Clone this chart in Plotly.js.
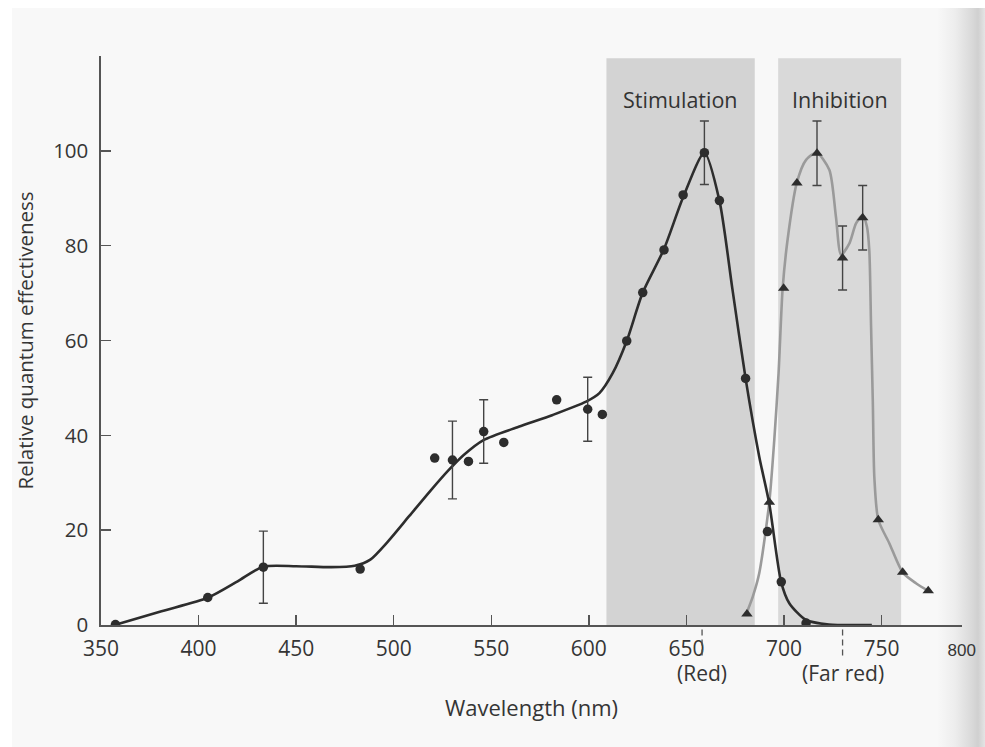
<!DOCTYPE html>
<html><head><meta charset="utf-8">
<script src="https://cdn.plot.ly/plotly-3.0.1.min.js"></script>
<style>
html,body{margin:0;padding:0;background:#fff;}
#wrap{position:relative;width:985px;height:747px;overflow:hidden;background:#fff;}
#page{position:absolute;left:12px;top:8px;width:973px;height:739px;background:linear-gradient(to right,#f8f8f8 0px,#f8f8f8 925px,#ededed 943px,#d9d9d9 960px,#d0d0d0 966px,#e4e4e4 973px);}
#chart{position:absolute;left:0;top:0;width:985px;height:747px;}
</style></head>
<body>
<div id="wrap"><div id="page"></div><div id="chart"></div></div>
<script>
// ---- data ----
const stimX = [357.4, 404.7, 433.2, 482.8, 521.0, 530.1, 538.3, 546.1, 556.4, 583.5, 599.4, 606.9, 619.4, 627.6, 638.5, 648.3, 659.2, 666.9, 680.3, 691.5, 698.6, 711.3];
const stimY = [0.1, 5.8, 12.2, 11.8, 35.2, 34.8, 34.5, 40.8, 38.5, 47.5, 45.5, 44.4, 59.9, 70.1, 79.1, 90.7, 99.6, 89.5, 52.0, 19.7, 9.1, 0.4];
const stimErrX = [433.2, 530.1, 546.1, 599.4, 659.2];
const stimErrY = [12.2, 34.8, 40.8, 45.5, 99.6];
const stimErr  = [7.6, 8.2, 6.7, 6.75, 6.7];
const stimCurveX = [357, 381, 405, 420, 433, 450, 468, 480, 488, 497, 508, 519, 528, 536, 546, 564, 581.5, 598.6, 605.4, 612.2, 619.4, 627.6, 638.5, 648.3, 659.2, 666.9, 673.5, 680.3, 687.3, 692.4, 698.5, 702.7, 711.3, 723, 745];
const stimCurveY = [0, 2.9, 5.8, 9.2, 12.3, 12.4, 12.2, 12.5, 13.8, 17.6, 23, 28.4, 32.6, 35.9, 39, 41.8, 44.3, 47.1, 48.9, 53.1, 59.9, 70.1, 79.3, 90.2, 99.6, 89.5, 71, 52, 35.5, 25.7, 9.1, 4.6, 1.05, 0.1, 0];

const inhX = [681, 692.5, 699.8, 706.6, 716.9, 730, 740.3, 748.3, 760.8, 773.9];
const inhY = [2.3, 25.9, 71.0, 93.2, 99.5, 77.4, 85.9, 22.2, 11.1, 7.2];
const inhErrX = [716.9, 730, 740.3];
const inhErrY = [99.5, 77.4, 85.9];
const inhErr  = [6.8, 6.75, 6.8];
const inhCurveX = [680.8, 684, 687.3, 692.4, 695, 697.2, 699.3, 701.8, 706.5, 711.3, 716.7, 723.2, 726.6, 729.2, 733.5, 736.9, 740.3, 742.5, 743.7, 744.6, 745.5, 746.3, 748.3, 754, 760.8, 767.6, 773.9];
const inhCurveY = [2.5, 6, 10.9, 25.7, 39, 53.1, 71, 81.2, 93.2, 98.1, 99.6, 96, 86.1, 78.1, 80.5, 84.7, 86.4, 84, 79, 63, 47, 31, 22.2, 17.2, 11.1, 8.8, 7.2];

const stimBand = [609, 685];
const inhBand = [697, 760];
const bandTop = 119.5;
const redMark = 658;
const farRedMark = 730;
const xEnd = 791.1;
const xTickVals = [350, 400, 450, 500, 550, 600, 650, 700, 750, xEnd];
const xTickText = ['350','400','450','500','550','600','650','700','750','<span style="font-family:Liberation Sans;font-size:17px">800</span>'];
const yTickVals = [0, 20, 40, 60, 80, 100, 120];
const yTickText = ['0','20','40','60','80','100',''];

// ---- chart ----
const dark = '#2d2d2d';
const grayLine = '#9a9a9a';
const font = 'Open Sans, Noto Sans, sans-serif';
const txt = '#353535';

const traces = [
  {x: inhCurveX, y: inhCurveY, mode: 'lines', line: {color: grayLine, width: 2.6, shape: 'spline', smoothing: 0.7}, hoverinfo: 'skip'},
  {x: stimCurveX, y: stimCurveY, mode: 'lines', line: {color: dark, width: 2.6, shape: 'spline', smoothing: 0.7}, hoverinfo: 'skip'},
  {x: stimErrX, y: stimErrY, mode: 'markers', marker: {size: 1, opacity: 0},
   error_y: {type: 'data', array: stimErr, visible: true, color: '#444', thickness: 1.4, width: 4.5}},
  {x: inhErrX, y: inhErrY, mode: 'markers', marker: {size: 1, opacity: 0},
   error_y: {type: 'data', array: inhErr, visible: true, color: '#444', thickness: 1.4, width: 4.5}},
  {x: stimX, y: stimY, mode: 'markers', marker: {symbol: 'circle', size: 9.5, color: dark}},
  {x: inhX, y: inhY, mode: 'markers', marker: {symbol: 'triangle-up', size: 10, color: dark}}
];

const layout = {
  width: 985, height: 747,
  margin: {l: 101, r: 23, t: 56, b: 122},
  paper_bgcolor: 'rgba(0,0,0,0)', plot_bgcolor: 'rgba(0,0,0,0)',
  showlegend: false,
  font: {family: font, color: txt, size: 21},
  xaxis: {
    range: [350, 791.2], showgrid: false, zeroline: false,
    showline: true, linecolor: '#555', linewidth: 1.6,
    ticks: 'inside', ticklen: 10, tickwidth: 1.5, tickcolor: '#555',
    tickmode: 'array', tickvals: xTickVals, ticktext: xTickText,
    tickfont: {size: 21, color: txt}, ticklabelstandoff: 4,
    title: {text: 'Wavelength (nm)', font: {size: 22, color: txt}, standoff: 40}
  },
  yaxis: {
    range: [0, 120], showgrid: false, zeroline: false,
    showline: true, linecolor: '#555', linewidth: 1.6,
    ticks: 'inside', ticklen: 10, tickwidth: 1.5, tickcolor: '#555',
    tickmode: 'array', tickvals: yTickVals, ticktext: yTickText,
    tickfont: {size: 20.5, color: txt}, ticklabelstandoff: 7,
    title: {text: 'Relative quantum effectiveness', font: {size: 20.5, color: txt}, standoff: 14}
  },
  shapes: [
    {type: 'rect', layer: 'below', xref: 'x', yref: 'y', x0: stimBand[0], x1: stimBand[1], y0: 0, y1: bandTop, fillcolor: '#d3d3d3', line: {width: 0}},
    {type: 'rect', layer: 'below', xref: 'x', yref: 'y', x0: inhBand[0], x1: inhBand[1], y0: 0, y1: bandTop, fillcolor: '#d9d9d9', line: {width: 0}},
    {type: 'line', xref: 'x', yref: 'paper', x0: redMark, x1: redMark, y0: -0.008, y1: -0.056, line: {color: '#555', width: 1.3, dash: '6px,4px'}},
    {type: 'line', xref: 'x', yref: 'paper', x0: farRedMark, x1: farRedMark, y0: -0.008, y1: -0.056, line: {color: '#555', width: 1.3, dash: '6px,4px'}}
  ],
  annotations: [
    {x: (stimBand[0] + stimBand[1]) / 2, y: 110.9, xref: 'x', yref: 'y', text: 'Stimulation', showarrow: false, font: {size: 21.5, color: '#333'}},
    {x: (inhBand[0] + inhBand[1]) / 2, y: 110.9, xref: 'x', yref: 'y', text: 'Inhibition', showarrow: false, font: {size: 21.5, color: '#333'}},
    {x: redMark, y: -0.085, xref: 'x', yref: 'paper', text: '(Red)', showarrow: false, yanchor: 'middle', font: {size: 21, color: txt}},
    {x: farRedMark, y: -0.085, xref: 'x', yref: 'paper', text: '(Far red)', showarrow: false, yanchor: 'middle', font: {size: 21, color: txt}}
  ]
};

Plotly.newPlot('chart', traces, layout, {displayModeBar: false, staticPlot: true});
</script>
</body></html>
